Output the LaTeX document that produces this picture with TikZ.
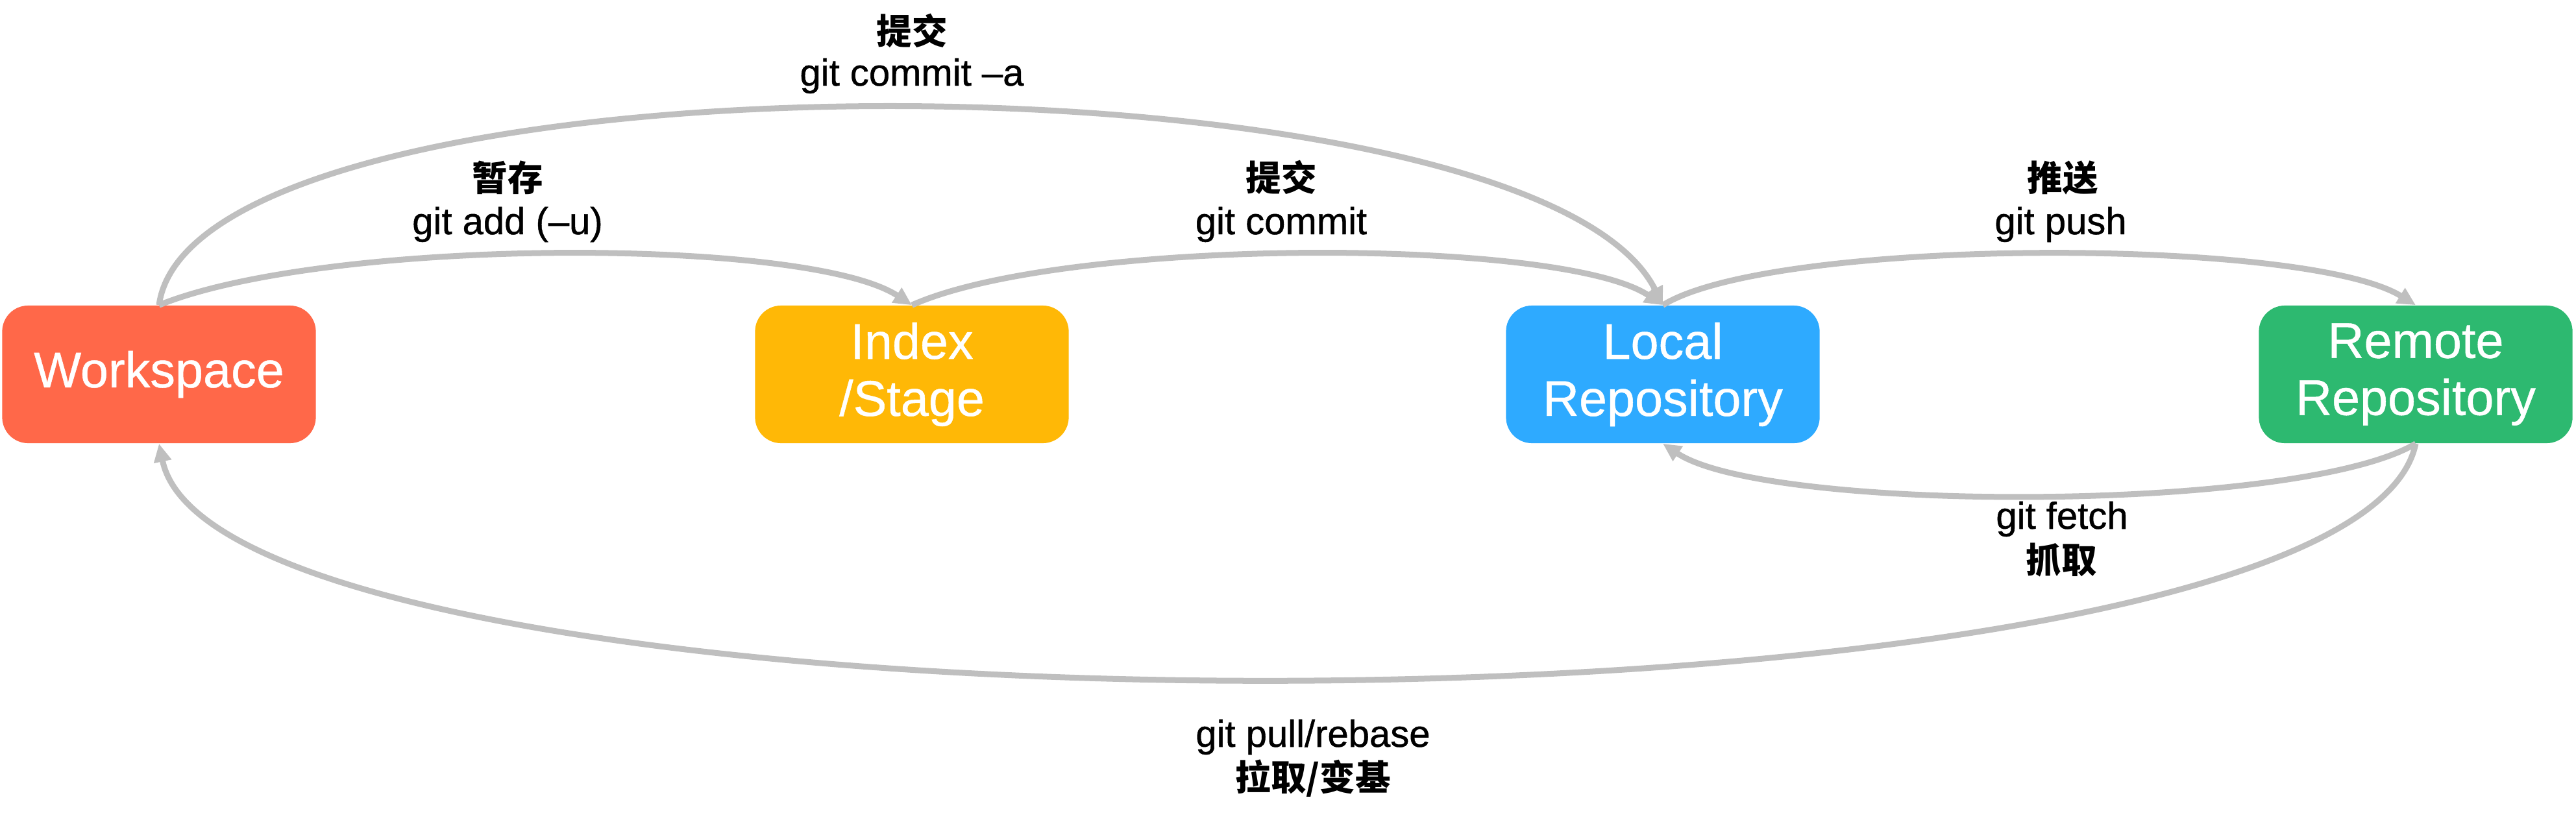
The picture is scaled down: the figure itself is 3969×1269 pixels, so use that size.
\documentclass[tikz,border=0pt]{standalone}
\usepackage{fontspec}
\setmainfont{Liberation Sans}
\newfontfamily\boxfont[FakeBold=0.6]{Liberation Sans}
\newfontfamily\cmdfont[FakeBold=0.8]{Liberation Sans}
\newfontfamily\cjk{Noto Sans CJK SC}
\usetikzlibrary{arrows.meta,calc}
\definecolor{wsred}{HTML}{FF6849}
\definecolor{idxyel}{HTML}{FFB806}
\definecolor{locblue}{HTML}{2EAAFF}
\definecolor{remgreen}{HTML}{2DB970}
\definecolor{linegray}{HTML}{BFBFBF}
\tikzset{
  box/.style={rounded corners=0.4cm, minimum width=4.83cm, minimum height=2.12cm,
    inner sep=0pt, text=white, align=center, font=\boxfont\fontsize{22}{25}\selectfont},
  flow/.style={draw=linegray, line width=0.09cm, -{Triangle[length=0.28cm,width=0.26cm]}},
  cjklabel/.style={anchor=base, inner sep=0pt, font=\cjk\bfseries\fontsize{15.5}{18}\selectfont},
  cmdlabel/.style={anchor=base, inner sep=0pt, font=\cmdfont\fontsize{16.5}{19}\selectfont},
}
\begin{document}
\begin{tikzpicture}[x=0.01cm, y=-0.01cm]
\useasboundingbox (0,0) rectangle (3969,1269);
% boxes
\node[box, fill=wsred] (ws) at (245,577) {Workspace};
\node[box, fill=idxyel] (idx) at (1405,577) {Index\\/Stage};
\node[box, fill=locblue] (loc) at (2562,577) {Local\\Repository};
\node[box, fill=remgreen] (rem) at (3722,577) {Remote\\Repository};
% connectors
\draw[flow] (ws.north) .. controls ($(ws.north)+(260,-105)$) and ($(idx.north)+(-160,-105)$) .. (idx.north);
\draw[flow] (idx.north) .. controls ($(idx.north)+(235,-105)$) and ($(loc.north)+(-155,-105)$) .. (loc.north);
\draw[flow] (ws.north) .. controls ($(ws.north)+(55,-405)$) and ($(loc.north)+(-202,-405)$) .. (loc.north);
\draw[flow] (loc.north) .. controls ($(loc.north)+(170,-105)$) and ($(rem.north)+(-170,-105)$) .. (rem.north);
\draw[flow] (rem.south) .. controls ($(rem.south)+(-180,107)$) and ($(loc.south)+(160,107)$) .. (loc.south);
\draw[flow] (rem.south) .. controls ($(rem.south)+(-100,483)$) and ($(ws.south)+(100,483)$) .. (ws.south);
% labels
\node[cjklabel] (l1a) at (1405,68) {提交};
\node[cmdlabel] (l1b) at (1405,132) {git commit –a};
\node[cjklabel] (l2a) at (782,294) {暂存};
\node[cmdlabel] (l2b) at (782,361) {git add (–u)};
\node[cjklabel] (l3a) at (1974,294) {提交};
\node[cmdlabel] (l3b) at (1974,361) {git commit};
\node[cjklabel] (l4a) at (3178,294) {推送};
\node[cmdlabel] (l4b) at (3175,361) {git push};
\node[cmdlabel] (l5a) at (3177,815) {git fetch};
\node[cjklabel] (l5b) at (3176,883) {抓取};
\node[cmdlabel] (l6a) at (2023,1151) {git pull/rebase};
\node[cjklabel] (l6b) at (2023,1218) {拉取/变基};
\end{tikzpicture}
\end{document}
